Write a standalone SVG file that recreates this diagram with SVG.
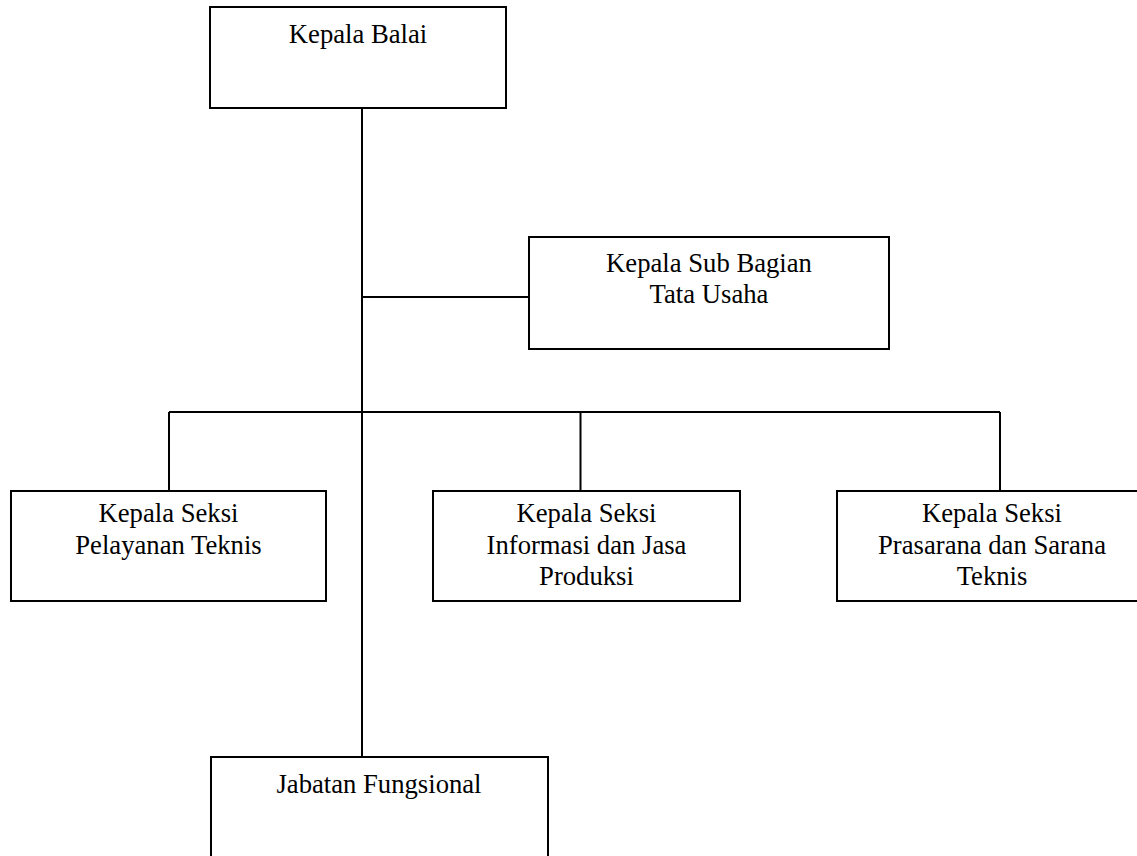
<svg xmlns="http://www.w3.org/2000/svg" width="1137" height="856" viewBox="0 0 1137 856">
<style>
.box{fill:#fff;stroke:#000;stroke-width:2}
.ln{stroke:#000;stroke-width:2;fill:none}
text{font-family:"Liberation Serif","Times New Roman",serif;font-size:26.67px;fill:#000;text-anchor:middle}
</style>
<rect width="1137" height="856" fill="#fff"/>
<g id="connectors">
<line class="ln" x1="362" y1="108" x2="362" y2="757"/>
<line class="ln" x1="362" y1="297" x2="529" y2="297"/>
<line class="ln" x1="169" y1="412" x2="1000" y2="412"/>
<line class="ln" x1="169" y1="412" x2="169" y2="491"/>
<line class="ln" x1="580.5" y1="412" x2="580.5" y2="491"/>
<line class="ln" x1="1000" y1="412" x2="1000" y2="491"/>
</g>
<g id="kepala-balai">
<rect class="box" x="210" y="7" width="296" height="101"/>
<text x="358" y="43">Kepala Balai</text>
</g>
<g id="kasubag-tu">
<rect class="box" x="529" y="237" width="360" height="112"/>
<text x="709" y="271.5">Kepala Sub Bagian</text>
<text x="709" y="303">Tata Usaha</text>
</g>
<g id="seksi-pelayanan">
<rect class="box" x="11" y="491" width="315" height="110"/>
<text x="168.5" y="522">Kepala Seksi</text>
<text x="168.5" y="553.5">Pelayanan Teknis</text>
</g>
<g id="seksi-informasi">
<rect class="box" x="433" y="491" width="307" height="110"/>
<text x="586.5" y="522">Kepala Seksi</text>
<text x="586.5" y="553.5">Informasi dan Jasa</text>
<text x="586.5" y="585">Produksi</text>
</g>
<g id="seksi-prasarana">
<rect class="box" x="837" y="491" width="320" height="110"/>
<text x="992" y="522">Kepala Seksi</text>
<text x="992" y="553.5">Prasarana dan Sarana</text>
<text x="992" y="585">Teknis</text>
</g>
<g id="jabatan-fungsional">
<rect class="box" x="211" y="757" width="337" height="120"/>
<text x="379" y="793">Jabatan Fungsional</text>
</g>
</svg>
